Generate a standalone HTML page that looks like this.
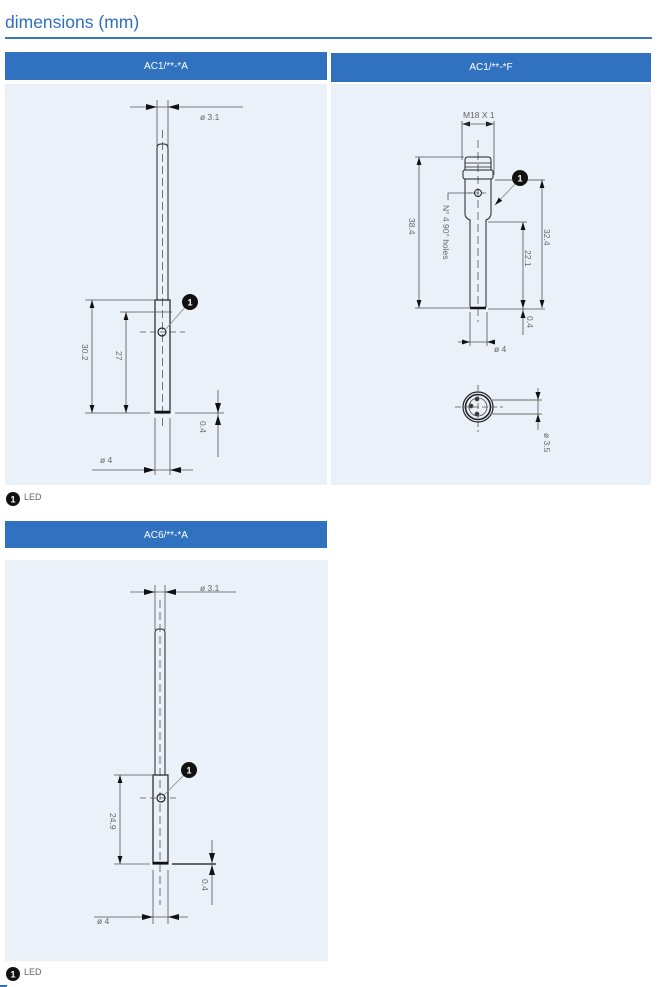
<!DOCTYPE html>
<html><head><meta charset="utf-8"><style>
html,body{margin:0;padding:0;background:#fff;width:663px;height:987px;overflow:hidden;font-family:"Liberation Sans",sans-serif}
.abs{position:absolute}
.hdr{position:absolute;background:#3072c0;color:#fff;font-size:10px;text-align:center;line-height:29px}
.pnl{position:absolute;background:#eaf1f9}
</style></head><body>
<div class="abs" style="left:5px;top:12px;font-size:17.5px;color:#2f6fbf">dimensions (mm)</div>
<div class="abs" style="left:5px;top:37px;width:647px;height:2px;background:#3b74bf"></div>
<div class="hdr" style="left:5px;top:52px;width:322px;height:28px">AC1/**-*A</div>
<div class="hdr" style="left:331px;top:53px;width:320px;height:29px">AC1/**-*F</div>
<div class="pnl" style="left:5px;top:84px;width:322px;height:401px"></div>
<div class="pnl" style="left:331px;top:84px;width:320px;height:401px"></div>
<div class="hdr" style="left:5px;top:521px;width:322px;height:27px">AC6/**-*A</div>
<div class="pnl" style="left:5px;top:560px;width:323px;height:401px"></div>
<div class="abs" style="left:0;top:985px;width:7px;height:2px;background:#3072c0"></div>
<svg class="abs" style="left:0;top:0" width="663" height="987" viewBox="0 0 663 987" font-family="Liberation Sans, sans-serif">
<defs>
<marker id="a" viewBox="0 0 10 6" refX="10" refY="3" markerWidth="8" markerHeight="5" orient="auto-start-reverse" markerUnits="userSpaceOnUse"><path d="M0,0L10,3L0,6z" fill="#111"/></marker>
</defs>
<g stroke="#555" stroke-width="0.8" fill="none">
<line x1="130" y1="107" x2="243" y2="107"/>
<line x1="157" y1="100" x2="157" y2="146"/><line x1="168" y1="100" x2="168" y2="146"/>
<path d="M157,300V148Q157,144 161,144H164Q168,144 168,148V300" stroke="#222" stroke-width="1"/>
<line x1="162.5" y1="130" x2="162.5" y2="430" stroke-dasharray="8,4"/>
<rect x="155" y="300" width="15" height="113" stroke="#222" stroke-width="1.2"/>
<line x1="155" y1="412" x2="170" y2="412" stroke="#111" stroke-width="2.5"/>
<line x1="85" y1="300" x2="155" y2="300"/><line x1="120" y1="312" x2="172" y2="312"/>
<line x1="85" y1="413" x2="150" y2="413"/><line x1="175" y1="413" x2="224" y2="413"/>
<line x1="92" y1="300" x2="92" y2="413" marker-start="url(#a)" marker-end="url(#a)"/>
<line x1="126" y1="312" x2="126" y2="413" marker-start="url(#a)" marker-end="url(#a)"/>
<line x1="140" y1="332" x2="185" y2="332" stroke-dasharray="6,4"/>
<circle cx="162" cy="332" r="4" stroke="#222" stroke-width="1.2"/>
<line x1="165" y1="330" x2="187" y2="305" stroke="#888"/>
<line x1="218" y1="390" x2="218" y2="457"/>
<line x1="155" y1="418" x2="155" y2="475"/><line x1="170" y1="418" x2="170" y2="475"/>
<line x1="92" y1="470" x2="193" y2="470"/>
<line x1="462" y1="121" x2="462" y2="160"/><line x1="494" y1="121" x2="494" y2="175"/>
<line x1="478" y1="140" x2="478" y2="322" stroke-dasharray="8,4"/>
<path d="M465,170V160Q465,157 468,157H488Q491,157 491,160V170" stroke="#222" stroke-width="1"/>
<line x1="465" y1="163" x2="491" y2="163" stroke="#222"/><line x1="465" y1="167" x2="491" y2="167" stroke="#222"/>
<rect x="463" y="170" width="30" height="9" rx="2" stroke="#222" stroke-width="1"/>
<path d="M465,179V214Q465,218 470,220V307M491,179V214Q491,218 486,220V307" stroke="#222" stroke-width="1"/>
<line x1="470" y1="308" x2="486" y2="308" stroke="#111" stroke-width="2.5"/>
<circle cx="478" cy="193" r="3.5" stroke="#222" stroke-width="1"/>
<line x1="468" y1="193" x2="488" y2="193" stroke-dasharray="4,3"/>
<path d="M448,200V193H474"/>
<line x1="415" y1="157" x2="464" y2="157"/><line x1="415" y1="308" x2="470" y2="308"/>
<line x1="419" y1="157" x2="419" y2="308" marker-start="url(#a)" marker-end="url(#a)"/>
<line x1="495" y1="180" x2="545" y2="180" stroke="#888" stroke-width="1.2"/>
<line x1="542" y1="180" x2="542" y2="308" marker-start="url(#a)" marker-end="url(#a)"/>
<line x1="488" y1="222" x2="527" y2="222"/>
<line x1="523" y1="222" x2="523" y2="308" marker-start="url(#a)" marker-end="url(#a)"/>
<line x1="488" y1="309" x2="545" y2="309"/>
<line x1="523" y1="308" x2="523" y2="335"/>
<line x1="517" y1="182" x2="495" y2="205" stroke="#888" marker-end="url(#a)"/>
<line x1="470" y1="312" x2="470" y2="346"/><line x1="487" y1="312" x2="487" y2="346"/>
<line x1="458" y1="342" x2="493" y2="342"/>
<circle cx="478" cy="407" r="15" stroke="#222" stroke-width="1.2"/>
<circle cx="478" cy="407" r="12.5" stroke="#222" stroke-width="1.6"/>
<circle cx="478" cy="407" r="9" stroke="#444"/>
<line x1="455" y1="407" x2="503" y2="407" stroke-dasharray="6,3"/>
<line x1="478" y1="385" x2="478" y2="432" stroke-dasharray="6,3"/>
<circle cx="477" cy="399" r="2" fill="#333"/><circle cx="471" cy="406" r="2" fill="#333"/><circle cx="477" cy="414" r="2" fill="#333"/>
<line x1="490" y1="400" x2="542" y2="400" stroke="#888" stroke-width="1.2"/><line x1="490" y1="414" x2="542" y2="414" stroke="#888" stroke-width="1.2"/>
<line x1="538" y1="388" x2="538" y2="430"/>
<line x1="130" y1="592" x2="236" y2="592"/>
<line x1="155" y1="585" x2="155" y2="630"/><line x1="165" y1="585" x2="165" y2="630"/>
<path d="M155,775V633Q155,629 159,629H161Q165,629 165,633V775" stroke="#222" stroke-width="1"/>
<line x1="160" y1="600" x2="160" y2="905" stroke-dasharray="8,4"/>
<rect x="153" y="775" width="15" height="89" stroke="#222" stroke-width="1.2"/>
<line x1="153" y1="863" x2="168" y2="863" stroke="#111" stroke-width="2.5"/>
<line x1="114" y1="775" x2="153" y2="775"/><line x1="114" y1="864" x2="150" y2="864"/>
<line x1="172" y1="864" x2="216" y2="864" stroke="#666" stroke-width="2"/>
<line x1="120" y1="775" x2="120" y2="864" marker-start="url(#a)" marker-end="url(#a)"/>
<line x1="140" y1="798" x2="180" y2="798" stroke-dasharray="6,4"/>
<circle cx="161" cy="798" r="4" stroke="#222" stroke-width="1.2"/>
<line x1="164" y1="795" x2="186" y2="773" stroke="#888"/>
<line x1="212" y1="840" x2="212" y2="905"/>
<line x1="153" y1="870" x2="153" y2="924"/><line x1="168" y1="870" x2="168" y2="924"/>
<line x1="94" y1="917" x2="188" y2="917"/>
</g>
<g fill="#111">
<path d="M157,107l-11,-3v6z M168,107l11,-3v6z"/>
<path d="M155,470l-11,-3v6z M170,470l11,-3v6z"/>
<path d="M218,413l-3,-10h6z M218,415l-3,10h6z"/>
<path d="M462,124l8,-2.5v5z M494,124l-8,-2.5v5z"/><line x1="462" y1="124" x2="494" y2="124" stroke="#555" stroke-width="0.8"/>
<path d="M470,342l-8,-2.5v5z M487,342l8,-2.5v5z"/>
<path d="M523,308l-2.5,-8h5z M523,310l-2.5,8h5z"/>
<path d="M538,400l-2.5,-8h5z M538,414l-2.5,8h5z"/>
<path d="M155,592l-11,-3v6z M165,592l11,-3v6z"/>
<path d="M153,917l-11,-3v6z M168,917l11,-3v6z"/>
<path d="M212,863l-3,-10h6z M212,865l-3,10h6z"/>
<circle cx="190" cy="302" r="8"/><circle cx="520" cy="178" r="8"/><circle cx="189" cy="770" r="8"/>
<circle cx="13" cy="499" r="7"/><circle cx="13" cy="974" r="7"/>
</g>
<g fill="#fff" font-size="9" font-weight="bold" text-anchor="middle">
<text x="190" y="305.5">1</text><text x="520" y="181.5">1</text><text x="189" y="773.5">1</text>
<text x="13" y="502.5">1</text><text x="13" y="977.5">1</text>
</g>
<g fill="#666" font-size="8.5">
<text x="200" y="120">ø 3.1</text>
<text x="100" y="463">ø 4</text>
<text x="200" y="591">ø 3.1</text>
<text x="97" y="924">ø 4</text>
<text x="463" y="118">M18 X 1</text>
<text x="494" y="352">ø 4</text>
<text x="24" y="500" font-size="9">LED</text>
<text x="24" y="975" font-size="9">LED</text>
<text transform="translate(82,344) rotate(90)">30.2</text>
<text transform="translate(116,351) rotate(90)">27</text>
<text transform="translate(200,421) rotate(90)">0.4</text>
<text transform="translate(110,813) rotate(90)">24.9</text>
<text transform="translate(202,879) rotate(90)">0.4</text>
<text transform="translate(409,218) rotate(90)">38.4</text>
<text transform="translate(443,205) rotate(90)">N° 4 90° holes</text>
<text transform="translate(544,229) rotate(90)">32.4</text>
<text transform="translate(525,250) rotate(90)">22.1</text>
<text transform="translate(527,316) rotate(90)">0.4</text>
<text transform="translate(544,433) rotate(90)">ø 3.5</text>
</g>
</svg>
</body></html>
